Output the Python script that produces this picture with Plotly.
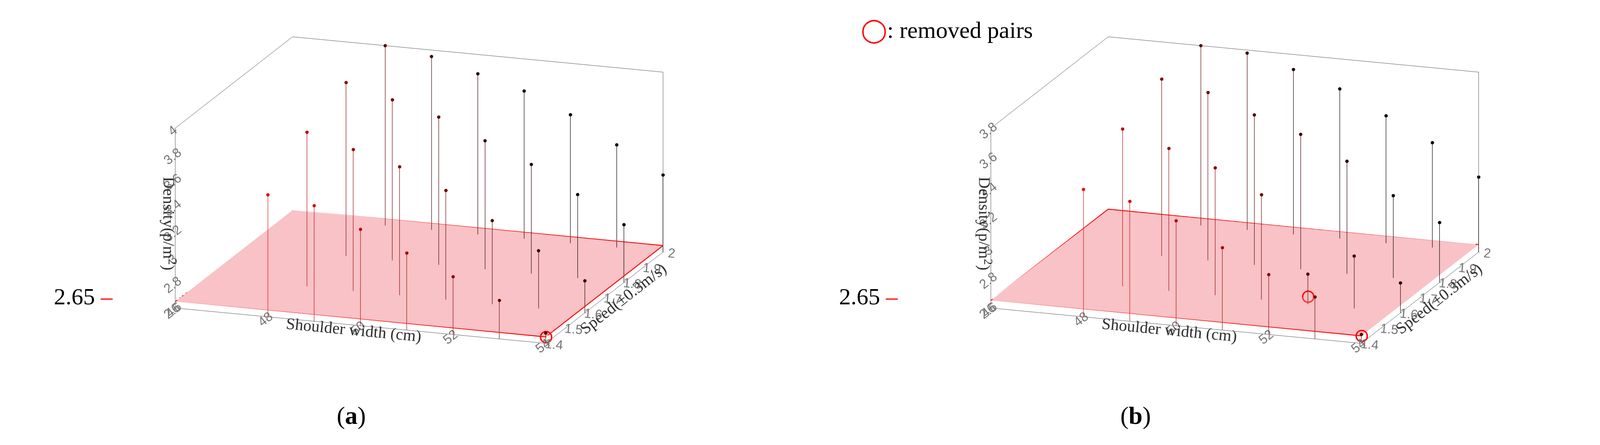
import plotly.graph_objects as go

# panel (a)
width_a = [48, 49, 50, 51, 52, 53, 54,
           48, 49, 50, 51, 52, 53, 54,
           48, 49, 50, 51, 52, 53, 54,
           48, 49, 50, 51, 52, 53, 54]
speed_a = [1.4] * 7 + [1.6] * 7 + [1.8] * 7 + [2.0] * 7
density_a = [3.55, 3.50, 3.35, 3.20, 3.05, 2.90, 2.68,
             3.80, 3.70, 3.60, 3.45, 3.25, 3.05, 2.85,
             3.95, 3.85, 3.75, 3.60, 3.45, 3.25, 3.05,
             4.00, 3.95, 3.85, 3.75, 3.60, 3.40, 3.20]
removed_a = [(54, 1.4, 2.65)]

# panel (b)
width_b = list(width_a)
speed_b = list(speed_a)
density_b = [3.45, 3.40, 3.30, 3.15, 3.00, 2.88, 2.66,
             3.65, 3.55, 3.45, 3.30, 2.80, 2.95, 2.80,
             3.78, 3.72, 3.60, 3.50, 3.35, 3.15, 3.00,
             3.80, 3.78, 3.70, 3.60, 3.45, 3.30, 3.10]
removed_b = [(52, 1.6, 2.65), (54, 1.4, 2.65)]

x_ticks = [46, 48, 50, 52, 54]
y_ticks = [1.4, 1.5, 1.6, 1.7, 1.8, 1.9, 2.0]
z_range_a = [2.6, 4.0]
z_range_b = [2.6, 3.8]
floor_z = 2.65

SERIF = "Liberation Serif"


def colour(x, y):
    # red at the front-left, black towards the back-right
    t = max(0.0, min(1.0, ((x - 48) / 6 + (y - 1.4) / 0.6) / 1.6))
    r = int(235 * (1 - t))
    return f"rgb({r},{int(15*(1-t))},{int(15*(1-t))})"


def add_panel(fig, scene, xs, ys, zs, removed, zr):
    zmin = zr[0]
    # floor grid
    for xv in range(46, 55):
        fig.add_trace(go.Scatter3d(x=[xv, xv], y=[1.4, 2.0], z=[zmin, zmin], mode="lines",
                                   line=dict(color="rgba(150,150,150,0.6)", width=1),
                                   showlegend=False, scene=scene, hoverinfo="skip"))
    for yv in y_ticks:
        fig.add_trace(go.Scatter3d(x=[46, 54], y=[yv, yv], z=[zmin, zmin], mode="lines",
                                   line=dict(color="rgba(150,150,150,0.6)", width=1),
                                   showlegend=False, scene=scene, hoverinfo="skip"))
    # red floor plane
    fig.add_trace(go.Mesh3d(x=[46, 54, 54, 46], y=[1.4, 1.4, 2.0, 2.0], z=[floor_z] * 4,
                            i=[0, 0], j=[1, 2], k=[2, 3], color="rgb(240,120,130)", opacity=0.45,
                            flatshading=True, showscale=False, scene=scene, hoverinfo="skip"))
    fig.add_trace(go.Scatter3d(x=[46, 54, 54, 46, 46], y=[1.4, 1.4, 2.0, 2.0, 1.4], z=[floor_z] * 5,
                               mode="lines", line=dict(color="red", width=5),
                               showlegend=False, scene=scene, hoverinfo="skip"))
    # stems
    for x, y, z in zip(xs, ys, zs):
        fig.add_trace(go.Scatter3d(x=[x, x], y=[y, y], z=[zmin, z], mode="lines",
                                   line=dict(color=colour(x, y), width=3), opacity=0.8,
                                   showlegend=False, scene=scene, hoverinfo="skip"))
    fig.add_trace(go.Scatter3d(x=xs, y=ys, z=zs, mode="markers",
                               marker=dict(size=5, color=[colour(x, y) for x, y in zip(xs, ys)]),
                               showlegend=False, scene=scene))
    fig.add_trace(go.Scatter3d(x=[r[0] for r in removed], y=[r[1] for r in removed],
                               z=[r[2] for r in removed], mode="markers",
                               marker=dict(size=18, symbol="circle-open", color="red",
                                           line=dict(width=6, color="red")),
                               showlegend=False, scene=scene))


fig = go.Figure()
add_panel(fig, "scene", width_a, speed_a, density_a, removed_a, z_range_a)
add_panel(fig, "scene2", width_b, speed_b, density_b, removed_b, z_range_b)


def scene_layout(domain_x, zr):
    ax = dict(showbackground=False, showgrid=False, zeroline=False, showline=True,
              linecolor="#555", linewidth=2, mirror=True, ticks="outside",
              tickfont=dict(size=20, color="#777", family="Liberation Sans"),
              showspikes=False)
    tf = dict(family=SERIF, size=42, color="#333")
    return dict(
        domain=dict(x=domain_x, y=[0.16, 1.0]),
        xaxis=dict(ax, range=[46, 54], tickvals=x_ticks,
                   title=dict(text="Shoulder width (cm)", font=tf)),
        yaxis=dict(ax, range=[1.4, 2.0], tickvals=y_ticks,
                   title=dict(text="Speed(±0.3m/s)", font=tf)),
        zaxis=dict(ax, range=zr, dtick=0.2,
                   title=dict(text="Density(p/m<sup>2</sup>)", font=tf)),
        aspectmode="manual", aspectratio=dict(x=2.1, y=1.9, z=1.0),
        camera=dict(eye=dict(x=0.7, y=-2.0, z=0.6), center=dict(x=0, y=0, z=0),
                    projection=dict(type="orthographic")),
    )


fig.update_layout(
    width=4261, height=1139, paper_bgcolor="white", margin=dict(l=0, r=0, t=0, b=0),
    scene=scene_layout([0.02, 0.48], z_range_a),
    scene2=scene_layout([0.51, 0.97], z_range_b),
    annotations=[
        dict(text="(<b>a</b>)", x=0.2, y=0.04, xref="paper", yref="paper", showarrow=False,
             font=dict(family=SERIF, size=64, color="black")),
        dict(text="(<b>b</b>)", x=0.69, y=0.04, xref="paper", yref="paper", showarrow=False,
             font=dict(family=SERIF, size=64, color="black")),
        dict(text="2.65 <span style='color:red'>–</span>", x=0.03, y=0.31, xref="paper", yref="paper",
             showarrow=False, font=dict(family=SERIF, size=60, color="black")),
        dict(text="2.65 <span style='color:red'>–</span>", x=0.52, y=0.31, xref="paper", yref="paper",
             showarrow=False, font=dict(family=SERIF, size=60, color="black")),
        dict(text="<span style='color:red'>◯</span>: removed pairs", x=0.515, y=0.97, xref="paper",
             yref="paper", showarrow=False, xanchor="left",
             font=dict(family=SERIF, size=60, color="black")),
    ],
)

fig.write_html("out.html")
